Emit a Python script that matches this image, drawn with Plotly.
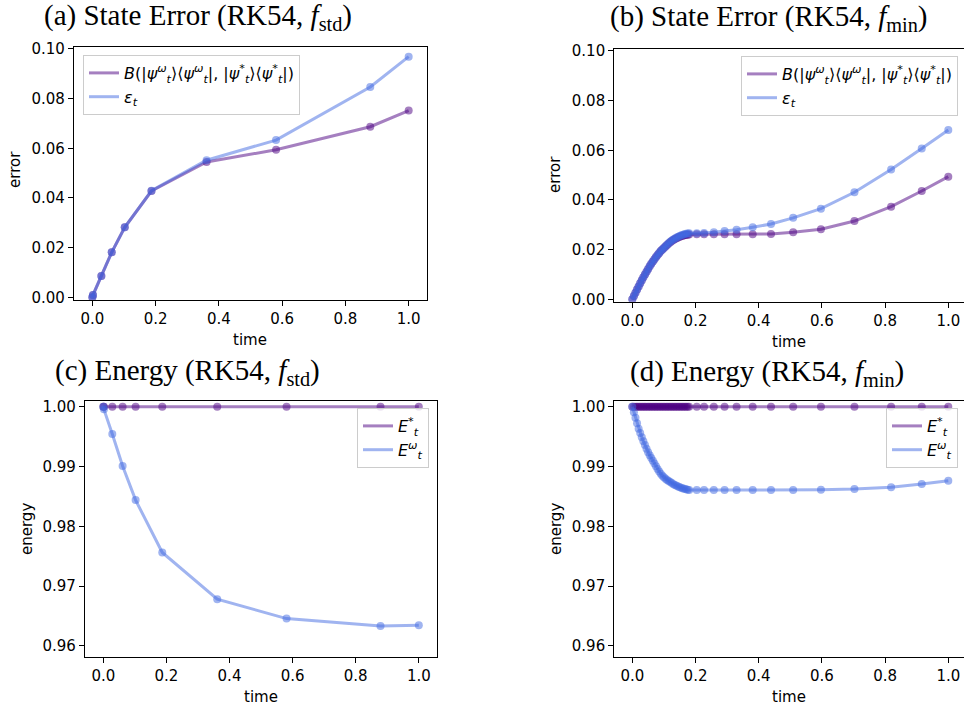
import plotly.graph_objects as go

# ---------------- data ----------------
# RK54, f_std: adaptive time steps
t_std = [0.0, 0.002, 0.0285, 0.0612, 0.1024, 0.1869, 0.3611, 0.5808, 0.8786, 1.0]
bures_std = [0.0, 0.0009, 0.0086, 0.0181, 0.0282, 0.0428, 0.0545, 0.0594, 0.0687, 0.0752]
eps_std = [0.0, 0.0009, 0.0086, 0.0181, 0.0282, 0.0429, 0.0552, 0.0633, 0.0847, 0.0969]
e_true_std = [1.0, 1.0, 1.0, 1.0, 1.0, 1.0, 1.0, 1.0, 1.0, 1.0]
e_model_std = [1.0, 0.99955, 0.99543, 0.99007, 0.98438, 0.97562, 0.96781, 0.96457, 0.96335, 0.96346]

# RK54, f_min: many small steps early on, then larger ones
t_min = [0.0, 0.005, 0.01, 0.015, 0.02, 0.025, 0.03, 0.035, 0.04, 0.045,
         0.05, 0.055, 0.06, 0.065, 0.07, 0.075, 0.08, 0.085, 0.09, 0.095,
         0.10, 0.105, 0.11, 0.115, 0.12, 0.125, 0.13, 0.135, 0.14, 0.145,
         0.15, 0.155, 0.16, 0.165, 0.17, 0.175, 0.18,
         0.204, 0.227, 0.258, 0.292, 0.330, 0.381, 0.439, 0.509, 0.597,
         0.703, 0.819, 0.916, 1.0]
bures_min = [0.0, 0.0013, 0.0026, 0.0039, 0.0052, 0.0065, 0.0077, 0.0089, 0.0100, 0.0111,
             0.0122, 0.0133, 0.0143, 0.0152, 0.0161, 0.0170, 0.0178, 0.0186, 0.0194, 0.0201,
             0.0207, 0.0213, 0.0219, 0.0225, 0.0230, 0.0235, 0.0239, 0.0243, 0.0246, 0.0249,
             0.0252, 0.0254, 0.0256, 0.0258, 0.0259, 0.0260, 0.0261,
             0.0262, 0.0262, 0.0262, 0.0262, 0.0262, 0.0262, 0.0263, 0.0270, 0.0282,
             0.0315, 0.0373, 0.0436, 0.0494]
eps_min = [0.0, 0.0013, 0.0026, 0.0039, 0.0052, 0.0065, 0.0077, 0.0089, 0.0100, 0.0111,
           0.0122, 0.0133, 0.0143, 0.0152, 0.0161, 0.0170, 0.0178, 0.0186, 0.0194, 0.0201,
           0.0207, 0.0214, 0.0220, 0.0226, 0.0232, 0.0237, 0.0241, 0.0245, 0.0249, 0.0252,
           0.0255, 0.0258, 0.0260, 0.0262, 0.0264, 0.0265, 0.0266,
           0.0266, 0.0267, 0.0270, 0.0275, 0.0280, 0.0290, 0.0303, 0.0328, 0.0365,
           0.0431, 0.0523, 0.0607, 0.0682]
e_true_min = [1.0] * 50
e_model_min = [1.0, 0.99908, 0.99815, 0.99722, 0.99630, 0.99558, 0.99490, 0.99422, 0.99358, 0.99298,
               0.99240, 0.99188, 0.99140, 0.99094, 0.99050, 0.99004, 0.98960, 0.98918, 0.98880, 0.98846,
               0.98820, 0.98795, 0.98775, 0.98757, 0.98740, 0.98722, 0.98705, 0.98690, 0.98676, 0.98664,
               0.98653, 0.98643, 0.98634, 0.98626, 0.98619, 0.98613, 0.98609,
               0.98605, 0.98605, 0.98605, 0.98605, 0.98605, 0.98605, 0.98605, 0.98607, 0.98610,
               0.98622, 0.98655, 0.98706, 0.98762]

x_ticks = [0.0, 0.2, 0.4, 0.6, 0.8, 1.0]
err_ticks = [0.0, 0.02, 0.04, 0.06, 0.08, 0.10]
en_ticks = [0.96, 0.97, 0.98, 0.99, 1.00]

titles = ["(a) State Error (RK54, <i>f</i><sub>std</sub>)",
          "(b) State Error (RK54, <i>f</i><sub>min</sub>)",
          "(c) Energy (RK54, <i>f</i><sub>std</sub>)",
          "(d) Energy (RK54, <i>f</i><sub>min</sub>)"]

LBL_B = ("<i>B</i>(|<i>ψ</i><sup><i>ω</i></sup><sub><i>t</i></sub>⟩⟨<i>ψ</i><sup><i>ω</i></sup><sub><i>t</i></sub>|, "
         "|<i>ψ</i><sup>*</sup><sub><i>t</i></sub>⟩⟨<i>ψ</i><sup>*</sup><sub><i>t</i></sub>|)")
LBL_EPS = "<i>ε</i><sub><i>t</i></sub>"
LBL_ETRUE = "<i>E</i><sup>*</sup><sub><i>t</i></sub>"
LBL_EMODEL = "<i>E</i><sup><i>ω</i></sup><sub><i>t</i></sub>"

# ---------------- style ----------------
W, H = 964, 711
PURPLE = "rgba(75,0,130,0.5)"
BLUE = "rgba(65,105,225,0.5)"
SANS = "DejaVu Sans"
SERIF = "Liberation Serif"


def px_x(p):
    return p / W


def px_y(p):
    return 1 - p / H


fig = go.Figure()


def add_series(x, y, color, name, xa, ya, legend):
    fig.add_trace(go.Scatter(x=x, y=y, mode="lines", name=name,
                             line=dict(color=color, width=3),
                             xaxis=xa, yaxis=ya, legend=legend))
    fig.add_trace(go.Scatter(x=x, y=y, mode="markers", showlegend=False,
                             marker=dict(color=color, size=8, line=dict(width=0)),
                             xaxis=xa, yaxis=ya, hoverinfo="skip"))


add_series(t_std, bures_std, PURPLE, LBL_B, "x", "y", "legend")
add_series(t_std, eps_std, BLUE, LBL_EPS, "x", "y", "legend")
add_series(t_min, bures_min, PURPLE, LBL_B, "x2", "y2", "legend2")
add_series(t_min, eps_min, BLUE, LBL_EPS, "x2", "y2", "legend2")
add_series(t_std, e_true_std, PURPLE, LBL_ETRUE, "x3", "y3", "legend3")
add_series(t_std, e_model_std, BLUE, LBL_EMODEL, "x3", "y3", "legend3")
add_series(t_min, e_true_min, PURPLE, LBL_ETRUE, "x4", "y4", "legend4")
add_series(t_min, e_model_min, BLUE, LBL_EMODEL, "x4", "y4", "legend4")

tickfont = dict(family=SANS, size=15, color="black")


def xaxis(domain, rng, anchor, mirror=True):
    return dict(domain=domain, range=rng, anchor=anchor, tickvals=x_ticks,
                tickformat=".1f", ticks="outside", ticklen=5, tickwidth=1,
                tickcolor="black", showline=True, linecolor="black", linewidth=1.2,
                mirror=mirror, showgrid=False, zeroline=False, tickfont=tickfont,
                automargin=False)


def yaxis(domain, rng, anchor, tickvals, mirror=True):
    return dict(domain=domain, range=rng, anchor=anchor, tickvals=tickvals,
                tickformat=".2f", ticks="outside", ticklen=5, tickwidth=1,
                tickcolor="black", showline=True, linecolor="black", linewidth=1.2,
                mirror=mirror, showgrid=False, zeroline=False, tickfont=tickfont,
                automargin=False)


dom_a_x = [px_x(74), px_x(426.7)]
dom_a_y = [px_y(300), px_y(47)]
dom_b_x = [px_x(614.3), 1.0]
dom_b_y = [px_y(301.7), px_y(49.3)]
dom_c_x = [px_x(85), px_x(436.7)]
dom_c_y = [px_y(656.7), px_y(400.7)]
dom_d_x = [px_x(614.3), 1.0]
dom_d_y = [px_y(656.7), px_y(400.7)]

legend_common = dict(font=dict(family=SANS, size=16, color="black"),
                     bgcolor="rgba(255,255,255,0.8)", bordercolor="#cccccc",
                     borderwidth=1, tracegroupgap=0)

fig.update_layout(
    width=W, height=H, margin=dict(l=0, r=0, t=0, b=0),
    paper_bgcolor="white", plot_bgcolor="white",
    xaxis=xaxis(dom_a_x, [-0.058, 1.057], "y"),
    yaxis=yaxis(dom_a_y, [-0.0011, 0.1008], "x", err_ticks),
    xaxis2=xaxis(dom_b_x, [-0.057, 1.0497], "y2"),
    yaxis2=yaxis(dom_b_y, [-0.00097, 0.10068], "x2", err_ticks, mirror=False),
    xaxis3=xaxis(dom_c_x, [-0.058, 1.0567], "y3"),
    yaxis3=yaxis(dom_c_y, [0.9582, 1.001], "x3", en_ticks),
    xaxis4=xaxis(dom_d_x, [-0.057, 1.0497], "y4"),
    yaxis4=yaxis(dom_d_y, [0.9582, 1.001], "x4", en_ticks, mirror=False),
    legend=dict(x=px_x(83), y=px_y(55), xanchor="left", yanchor="top", **legend_common),
    legend2=dict(x=px_x(958), y=px_y(56), xanchor="right", yanchor="top", **legend_common),
    legend3=dict(x=px_x(429), y=px_y(408), xanchor="right", yanchor="top", **legend_common),
    legend4=dict(x=px_x(958), y=px_y(408), xanchor="right", yanchor="top", **legend_common),
    showlegend=True,
)

annotations = []
# panel captions
for text, cx, cy in zip(titles, [198, 768, 187, 767], [17, 18, 372, 373]):
    annotations.append(dict(text=text, x=px_x(cx), y=px_y(cy), xref="paper", yref="paper",
                            xanchor="center", yanchor="middle", showarrow=False,
                            font=dict(family=SERIF, size=29, color="black")))
# axis labels
for cx, cy in [(250, 340), (789, 342), (261, 697), (789, 697)]:
    annotations.append(dict(text="time", x=px_x(cx), y=px_y(cy), xref="paper", yref="paper",
                            xanchor="center", yanchor="middle", showarrow=False,
                            font=dict(family=SANS, size=15, color="black")))
for text, cx, cy in [("error", 15, 170), ("error", 555, 175), ("energy", 27, 529), ("energy", 556, 529)]:
    annotations.append(dict(text=text, x=px_x(cx), y=px_y(cy), xref="paper", yref="paper",
                            xanchor="center", yanchor="middle", showarrow=False, textangle=-90,
                            font=dict(family=SANS, size=15, color="black")))
fig.update_layout(annotations=annotations)

fig.write_html("out.html")
